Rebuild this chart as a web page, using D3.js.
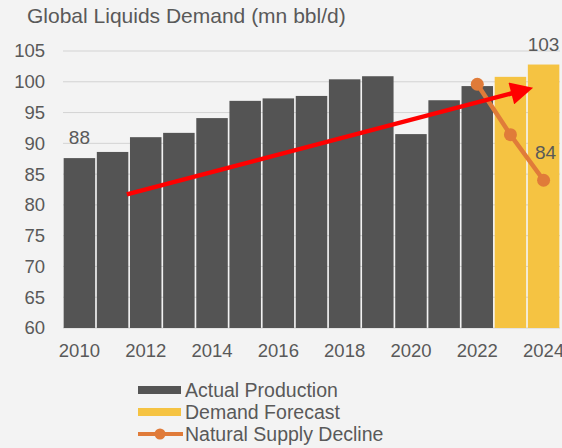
<!DOCTYPE html>
<html>
<head>
<meta charset="utf-8">
<script src="https://cdn.jsdelivr.net/npm/d3@7"></script>
<style>
  body { margin: 0; background: #f3f3f3; }
  svg { font-family: "Liberation Sans", Arial, sans-serif; }
</style>
</head>
<body>
<svg id="chart" width="562" height="448"></svg>
<script>
// values
var years = [2010, 2011, 2012, 2013, 2014, 2015, 2016, 2017, 2018, 2019, 2020, 2021, 2022, 2023, 2024]
var demand = [87.6, 88.6, 91.0, 91.7, 94.1, 96.9, 97.3, 97.7, 100.4, 100.9, 91.5, 97.0, 99.3, 100.8, 102.8]
var forecastYears = [2023, 2024]
var declineYears = [2022, 2023, 2024]
var declineValues = [99.6, 91.4, 84.0]
var yTicks = [60, 65, 70, 75, 80, 85, 90, 95, 100, 105]
var xTickYears = [2010, 2012, 2014, 2016, 2018, 2020, 2022, 2024]
var trendYears = [2011.43, 2023.8]
var trendValues = [81.7, 99.2]
var legendLabels = ["Actual Production", "Demand Forecast", "Natural Supply Decline"]

var dimensions = {
    width: 562,
    height: 448,
    margin: { top: 51, bottom: 120, right: 2, left: 63 }
}

var svg = d3.select("#chart")

var xScale = d3.scaleBand()
        .domain(years)
        .range([dimensions.margin.left, dimensions.width - dimensions.margin.right])
        .paddingInner(0.05)
        .paddingOuter(0.02)

var yScale = d3.scaleLinear()
        .domain([60, 105])
        .range([dimensions.height - dimensions.margin.bottom, dimensions.margin.top])

var xCenter = y => xScale(y) + xScale.bandwidth() / 2
// continuous year position for the trend arrow
var xYear = d3.scaleLinear()
        .domain([2010, 2024])
        .range([xCenter(2010), xCenter(2024)])

var textColor = "#595959"
var gold = "#f5c342"
var dark = "#545454"
var orange = "#e07b39"

// title
svg.append("text")
        .attr("x", 27)
        .attr("y", 23)
        .style("font-size", "21px")
        .style("fill", textColor)
        .text("Global Liquids Demand (mn bbl/d)")

// gridlines
svg.append("g")
        .selectAll("line")
        .data(yTicks)
        .enter()
        .append("line")
        .attr("x1", dimensions.margin.left)
        .attr("x2", dimensions.width - dimensions.margin.right)
        .attr("y1", d => yScale(d))
        .attr("y2", d => yScale(d))
        .style("stroke", "#d3d3d3")
        .style("stroke-width", 1)

// y axis
var yAxisGen = d3.axisLeft(yScale).tickValues(yTicks).tickSize(0).tickPadding(0)
var yAxis = svg.append("g")
        .call(yAxisGen)
        .attr("transform", `translate(${dimensions.margin.left - 18},0)`)
yAxis.select(".domain").remove()
yAxis.selectAll("text").style("font-size", "18.5px").style("fill", textColor)

// bars
svg.append("g")
        .selectAll("rect")
        .data(years)
        .enter()
        .append("rect")
        .attr("x", d => xScale(d))
        .attr("width", xScale.bandwidth())
        .attr("y", (d, i) => yScale(demand[i]))
        .attr("height", (d, i) => yScale(60) - yScale(demand[i]))
        .attr("fill", d => forecastYears.includes(d) ? gold : dark)

// x axis
var xAxisGen = d3.axisBottom(xScale).tickValues(xTickYears).tickSize(0).tickPadding(0)
var xAxis = svg.append("g")
        .call(xAxisGen)
        .attr("transform", `translate(0,${yScale(60) + 16})`)
xAxis.select(".domain").remove()
xAxis.selectAll("text").style("font-size", "18.5px").style("fill", textColor)

// natural supply decline
var line = d3.line().x((d, i) => xCenter(declineYears[i])).y(d => yScale(d))
svg.append("path")
        .datum(declineValues)
        .attr("d", line)
        .style("fill", "none")
        .style("stroke", orange)
        .style("stroke-width", 4.5)
svg.append("g")
        .selectAll("circle")
        .data(declineValues)
        .enter()
        .append("circle")
        .attr("cx", (d, i) => xCenter(declineYears[i]))
        .attr("cy", d => yScale(d))
        .attr("r", 6.5)
        .attr("fill", orange)

// red trend arrow
svg.append("defs").append("marker")
        .attr("id", "arrow")
        .attr("viewBox", "0 0 10 10")
        .attr("refX", 2)
        .attr("refY", 5)
        .attr("markerWidth", 5.5)
        .attr("markerHeight", 5)
        .attr("orient", "auto")
        .append("path")
        .attr("d", "M0,0 L10,5 L0,10 z")
        .attr("fill", "#ff0000")
var x1 = xYear(trendYears[0]), y1 = yScale(trendValues[0])
var x2 = xYear(trendYears[1]), y2 = yScale(trendValues[1])
var ang = Math.atan2(y2 - y1, x2 - x1)
svg.append("line")
        .attr("x1", x1)
        .attr("y1", y1)
        .attr("x2", x2 - 22 * Math.cos(ang))
        .attr("y2", y2 - 22 * Math.sin(ang))
        .attr("marker-end", "url(#arrow)")
        .style("stroke", "#ff0000")
        .style("stroke-width", 4.5)

// data labels
var labelStyle = sel => sel.style("font-size", "19px").style("fill", textColor).attr("text-anchor", "middle")
svg.append("text").call(labelStyle)
        .attr("x", xCenter(2010))
        .attr("y", yScale(demand[0]) - 14)
        .text(Math.round(demand[0]))
svg.append("text").call(labelStyle)
        .attr("x", xCenter(2024))
        .attr("y", yScale(demand[14]) - 14)
        .text(Math.round(demand[14]))
svg.append("text").call(labelStyle)
        .attr("x", xCenter(2024) + 2)
        .attr("y", yScale(declineValues[2]) - 21)
        .text(Math.round(declineValues[2]))

// legend
var legend = svg.append("g").attr("transform", "translate(138,390)")
legendLabels.forEach(function (label, i) {
    var g = legend.append("g").attr("transform", `translate(0,${i * 22})`)
    if (i < 2) {
        g.append("rect")
                .attr("x", 0).attr("y", -4)
                .attr("width", 43).attr("height", 8)
                .attr("fill", i == 0 ? dark : gold)
    } else {
        g.append("line")
                .attr("x1", 0).attr("x2", 45).attr("y1", 0).attr("y2", 0)
                .style("stroke", orange).style("stroke-width", 4)
        g.append("circle").attr("cx", 22).attr("cy", 0).attr("r", 5.5).attr("fill", orange)
    }
    g.append("text")
            .attr("x", 47)
            .attr("y", 7)
            .style("font-size", "19.5px")
            .style("fill", textColor)
            .text(label)
})
</script>
</body>
</html>
